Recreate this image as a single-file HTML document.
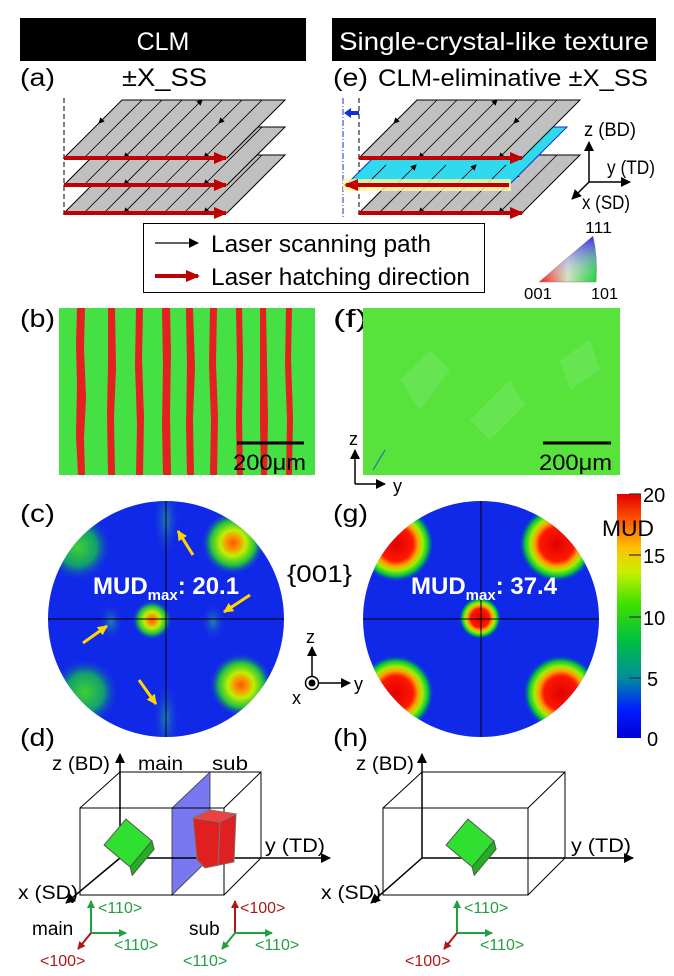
<!DOCTYPE html>
<html><head><meta charset="utf-8"><style>
html,body{margin:0;padding:0;background:#fff}
svg{display:block;font-family:"Liberation Sans",Arial,sans-serif}
</style></head><body>
<svg width="674" height="976" viewBox="0 0 674 976" xmlns="http://www.w3.org/2000/svg">
<defs>
<marker id="mk" markerWidth="6" markerHeight="6" refX="5" refY="3" orient="auto" markerUnits="userSpaceOnUse"><path d="M0,0 L6,3 L0,6 z" fill="#000"/></marker>
<marker id="mr" markerWidth="14" markerHeight="12" refX="12" refY="6" orient="auto" markerUnits="userSpaceOnUse"><path d="M0,0 L14,6 L0,12 z" fill="#c00000"/></marker>
<marker id="mb" markerWidth="10" markerHeight="10" refX="9" refY="5" orient="auto" markerUnits="userSpaceOnUse"><path d="M0,0 L10,5 L0,10 z" fill="#000"/></marker>
<marker id="mg" markerWidth="8" markerHeight="8" refX="7" refY="4" orient="auto" markerUnits="userSpaceOnUse"><path d="M0,0 L8,4 L0,8 z" fill="#20a040"/></marker>
<marker id="md" markerWidth="8" markerHeight="8" refX="7" refY="4" orient="auto" markerUnits="userSpaceOnUse"><path d="M0,0 L8,4 L0,8 z" fill="#b01818"/></marker>
<marker id="my" markerWidth="10" markerHeight="10" refX="9" refY="5" orient="auto" markerUnits="userSpaceOnUse"><path d="M0,0 L10,5 L0,10 z" fill="#ffd700"/></marker>
<g id="plate">
<polygon points="0,0 58,-58 221,-58 163,0" stroke="#000" stroke-width="1"/>
<g stroke="#000" stroke-width="0.8">
<line x1="78" y1="-58" x2="20" y2="0"/>
<line x1="40" y1="0" x2="98" y2="-58"/>
<line x1="118" y1="-58" x2="60" y2="0" marker-end="url(#mk)"/>
<line x1="80" y1="0" x2="138" y2="-58" marker-end="url(#mk)"/>
<line x1="158" y1="-58" x2="100" y2="0"/>
<line x1="120" y1="0" x2="178" y2="-58"/>
<line x1="198" y1="-58" x2="140" y2="0" marker-end="url(#mk)"/>
<line x1="38" y1="-38" x2="35" y2="-35" marker-end="url(#mk)"/>
<line x1="158" y1="-38" x2="155" y2="-35" marker-end="url(#mk)"/>
</g>
</g>
<linearGradient id="cb" x1="0" y1="1" x2="0" y2="0">
<stop offset="0" stop-color="#0000d8"/><stop offset="0.12" stop-color="#0020ff"/><stop offset="0.25" stop-color="#00909a"/><stop offset="0.4" stop-color="#00c040"/><stop offset="0.55" stop-color="#40e000"/><stop offset="0.68" stop-color="#c8f000"/><stop offset="0.78" stop-color="#ffc000"/><stop offset="0.9" stop-color="#ff5000"/><stop offset="1" stop-color="#e00000"/>
</linearGradient>
<radialGradient id="pr"><stop offset="0" stop-color="#e00000"/><stop offset="0.45" stop-color="#ff1800"/><stop offset="0.58" stop-color="#ffa000"/><stop offset="0.7" stop-color="#a0f000"/><stop offset="0.85" stop-color="#00c040"/><stop offset="1" stop-color="#1028e8" stop-opacity="0"/></radialGradient>
<radialGradient id="po"><stop offset="0" stop-color="#f06000"/><stop offset="0.2" stop-color="#ff9000"/><stop offset="0.4" stop-color="#c0f000"/><stop offset="0.7" stop-color="#20c040"/><stop offset="1" stop-color="#1028e8" stop-opacity="0"/></radialGradient>
<radialGradient id="pg"><stop offset="0" stop-color="#40d030"/><stop offset="0.55" stop-color="#10a070"/><stop offset="1" stop-color="#1028e8" stop-opacity="0"/></radialGradient>
<radialGradient id="pw"><stop offset="0" stop-color="#2080b0"/><stop offset="1" stop-color="#1028e8" stop-opacity="0"/></radialGradient>
<clipPath id="cc"><circle cx="166" cy="619" r="118"/></clipPath>
<clipPath id="cg"><circle cx="481" cy="619" r="118"/></clipPath>
<linearGradient id="ipf" x1="0" y1="0" x2="1" y2="0"><stop offset="0" stop-color="#ff1010"/><stop offset="0.5" stop-color="#d0e0c0"/><stop offset="1" stop-color="#10d030"/></linearGradient>
<linearGradient id="ipf2" x1="0" y1="1" x2="0" y2="0"><stop offset="0" stop-color="#fff" stop-opacity="0"/><stop offset="1" stop-color="#4020ff"/></linearGradient>
</defs>

<rect x="20" y="18" width="286" height="43" fill="#000"/>
<text x="163" y="50" font-size="25" fill="#fff" text-anchor="middle">CLM</text>
<rect x="332" y="18" width="324" height="43" fill="#000"/>
<text x="339" y="50" font-size="25" fill="#fff" textLength="310" lengthAdjust="spacingAndGlyphs">Single-crystal-like texture</text>
<text x="20" y="86" font-size="25" textLength="35" lengthAdjust="spacingAndGlyphs">(a)</text>
<text x="122" y="86" font-size="25" textLength="85" lengthAdjust="spacingAndGlyphs">±X_SS</text>
<text x="333" y="86" font-size="25" textLength="35" lengthAdjust="spacingAndGlyphs">(e)</text>
<text x="378" y="86" font-size="24" textLength="270" lengthAdjust="spacingAndGlyphs">CLM-eliminative  ±X_SS</text>

<line x1="64" y1="98" x2="64" y2="218" stroke="#000" stroke-dasharray="5,3"/>
<use href="#plate" x="64" y="213" fill="#c0c0c0"/>
<use href="#plate" x="64" y="185" fill="#c0c0c0"/>
<use href="#plate" x="64" y="158" fill="#c0c0c0"/>
<g stroke="#c00000" stroke-width="4">
<line x1="64" y1="158" x2="226" y2="158" marker-end="url(#mr)"/>
<line x1="64" y1="185" x2="226" y2="185" marker-end="url(#mr)"/>
<line x1="64" y1="213" x2="226" y2="213" marker-end="url(#mr)"/>
</g>

<line x1="343" y1="98" x2="343" y2="218" stroke="#1030d0" stroke-dasharray="6,2,1,2"/>
<line x1="359" y1="98" x2="359" y2="218" stroke="#000" stroke-dasharray="5,3"/>
<path d="M359,113 L348,113" stroke="#1030d0" stroke-width="4"/><path d="M344,113 L351,108 L351,118z" fill="#1030d0"/>
<use href="#plate" x="359" y="213" fill="#c0c0c0"/>
<g transform="translate(346,185)"><polygon points="0,0 58,-58 221,-58 163,0" fill="#30d8f0" stroke="#1030d0"/>
<g stroke="#000" stroke-width="0.8"><line x1="20" y1="0" x2="40" y2="-20"/><line x1="50" y1="0" x2="70" y2="-20" marker-end="url(#mk)"/><line x1="80" y1="0" x2="100" y2="-20"/><line x1="110" y1="0" x2="130" y2="-20" marker-end="url(#mk)"/><line x1="140" y1="0" x2="160" y2="-20"/></g></g>
<use href="#plate" x="359" y="158" fill="#c0c0c0"/>
<line x1="359" y1="158" x2="522" y2="158" stroke="#c00000" stroke-width="4" marker-end="url(#mr)"/>
<line x1="359" y1="213" x2="522" y2="213" stroke="#c00000" stroke-width="4" marker-end="url(#mr)"/>
<rect x="343" y="179" width="168" height="12" fill="#fff8a0" opacity="0.8"/>
<line x1="509" y1="185" x2="346" y2="185" stroke="#c00000" stroke-width="4" marker-end="url(#mr)"/>

<g stroke="#000" stroke-width="1.5">
<line x1="589" y1="182" x2="589" y2="142" marker-end="url(#mb)"/>
<line x1="589" y1="182" x2="630" y2="182" marker-end="url(#mb)"/>
<line x1="589" y1="182" x2="572" y2="199" marker-end="url(#mb)"/>
</g>
<text x="584" y="136" font-size="19" textLength="52" lengthAdjust="spacingAndGlyphs">z (BD)</text>
<text x="607" y="174" font-size="19" textLength="48" lengthAdjust="spacingAndGlyphs">y (TD)</text>
<text x="582" y="209" font-size="19" textLength="48" lengthAdjust="spacingAndGlyphs">x (SD)</text>

<rect x="143.5" y="223.5" width="341" height="69" fill="#fff" stroke="#000"/>
<line x1="155" y1="243" x2="198" y2="243" stroke="#000" stroke-width="1.2" marker-end="url(#mb)"/>
<text x="211" y="252" font-size="24" textLength="220" lengthAdjust="spacingAndGlyphs">Laser scanning path</text>
<line x1="155" y1="276" x2="198" y2="276" stroke="#c00000" stroke-width="4" marker-end="url(#mr)"/>
<text x="211" y="285" font-size="24" textLength="259" lengthAdjust="spacingAndGlyphs">Laser hatching direction</text>

<path d="M539,282 L596,282 Q598,258 593,236 Z" fill="url(#ipf)"/>
<path d="M539,282 L596,282 Q598,258 593,236 Z" fill="url(#ipf2)" stroke="#888" stroke-width="0.5"/>
<text x="585" y="233" font-size="16" textLength="27" lengthAdjust="spacingAndGlyphs">111</text>
<text x="524" y="299" font-size="16" textLength="28" lengthAdjust="spacingAndGlyphs">001</text>
<text x="591" y="299" font-size="16" textLength="27" lengthAdjust="spacingAndGlyphs">101</text>

<text x="20" y="327" font-size="25" textLength="35" lengthAdjust="spacingAndGlyphs">(b)</text>
<rect x="59" y="308" width="256" height="167" fill="#44e044"/>
<g fill="#e42020">
<path d="M77,308 h8 l-1,40 l2,50 l-2,40 l1,37 h-7 l-2,-40 l1,-50 l-1,-40z"/>
<path d="M108,308 h7 l1,60 l-2,50 l1,57 h-7 l-1,-60 l1,-50z"/>
<path d="M136,308 h7 l-1,50 l2,60 l-1,57 h-7 l1,-50 l-2,-60z"/>
<path d="M162,308 h8 l1,45 l-1,60 l1,62 h-8 l-1,-50 l1,-60z"/>
<path d="M186,308 h7 l2,60 l-2,50 l1,57 h-7 l-1,-50 l1,-60z"/>
<path d="M210,308 h7 l-1,55 l2,55 l-1,57 h-7 l1,-55 l-2,-55z"/>
<path d="M236,308 h6 l1,50 l-1,60 l1,57 h-6 l-1,-55 l1,-55z"/>
<path d="M260,308 h6 l1,55 l1,55 l-1,57 h-6 l-1,-50 l0,-60z"/>
<path d="M286,308 h6 l-1,50 l2,60 l-1,57 h-6 l1,-55 l-2,-55z"/>
</g>
<line x1="237" y1="443" x2="304" y2="443" stroke="#000" stroke-width="3"/>
<text x="233" y="470" font-size="22" textLength="73" lengthAdjust="spacingAndGlyphs">200μm</text>

<text x="333" y="327" font-size="25" textLength="35" lengthAdjust="spacingAndGlyphs">(f)</text>
<rect x="363" y="308" width="257" height="167" fill="#58e23c"/>
<g fill="#70e860" opacity="0.6"><path d="M400,380 l30,-30 l20,20 l-30,40z"/><path d="M470,420 l40,-40 l15,25 l-35,35z"/><path d="M560,360 l30,-20 l10,30 l-30,20z"/></g>
<line x1="373" y1="470" x2="385" y2="450" stroke="#2060c0" stroke-width="1"/>
<line x1="543" y1="443" x2="611" y2="443" stroke="#000" stroke-width="3"/>
<text x="539" y="470" font-size="22" textLength="73" lengthAdjust="spacingAndGlyphs">200μm</text>
<g stroke="#000" stroke-width="1.5"><line x1="355" y1="484" x2="355" y2="450" marker-end="url(#mb)"/><line x1="355" y1="484" x2="385" y2="484" marker-end="url(#mb)"/></g>
<text x="349" y="445" font-size="18">z</text>
<text x="393" y="492" font-size="18">y</text>

<text x="20" y="522" font-size="25" textLength="35" lengthAdjust="spacingAndGlyphs">(c)</text>
<circle cx="166" cy="619" r="118" fill="#1028e8"/>
<g clip-path="url(#cc)">
<ellipse cx="166" cy="520" rx="14" ry="40" fill="url(#pw)"/>
<ellipse cx="166" cy="718" rx="14" ry="40" fill="url(#pw)"/>
<circle cx="78" cy="547" r="34" fill="url(#pg)"/>
<circle cx="85" cy="692" r="34" fill="url(#pg)"/>
<circle cx="233" cy="543" r="32" fill="url(#po)"/>
<circle cx="241" cy="685" r="32" fill="url(#po)"/>
<circle cx="152" cy="620" r="20" fill="url(#po)"/>
<ellipse cx="111" cy="622" rx="13" ry="20" fill="url(#pw)"/>
<ellipse cx="213" cy="622" rx="13" ry="20" fill="url(#pw)"/>
</g>
<g stroke="#000" stroke-width="1"><line x1="48" y1="619" x2="284" y2="619"/><line x1="166" y1="501" x2="166" y2="737"/></g>
<g stroke="#ffd700" stroke-width="3">
<line x1="193" y1="555" x2="178" y2="531" marker-end="url(#my)"/>
<line x1="250" y1="595" x2="224" y2="612" marker-end="url(#my)"/>
<line x1="83" y1="643" x2="107" y2="626" marker-end="url(#my)"/>
<line x1="139" y1="680" x2="156" y2="704" marker-end="url(#my)"/>
</g>
<text x="93" y="594" font-size="24" font-weight="bold" fill="#fff">MUD<tspan font-size="15" dy="6">max</tspan><tspan dy="-6">: 20.1</tspan></text>
<text x="287" y="582" font-size="24" textLength="65" lengthAdjust="spacingAndGlyphs">{001}</text>

<text x="333" y="522" font-size="25" textLength="35" lengthAdjust="spacingAndGlyphs">(g)</text>
<circle cx="481" cy="619" r="118" fill="#1028e8"/>
<g clip-path="url(#cg)">
<circle cx="396" cy="544" r="38" fill="url(#pr)"/>
<circle cx="557" cy="544" r="38" fill="url(#pr)"/>
<circle cx="396" cy="693" r="38" fill="url(#pr)"/>
<circle cx="561" cy="693" r="38" fill="url(#pr)"/>
<circle cx="480" cy="618" r="21" fill="url(#pr)"/>
</g>
<g stroke="#000" stroke-width="1"><line x1="363" y1="619" x2="599" y2="619"/><line x1="481" y1="501" x2="481" y2="737"/></g>
<text x="411" y="594" font-size="24" font-weight="bold" fill="#fff">MUD<tspan font-size="15" dy="6">max</tspan><tspan dy="-6">: 37.4</tspan></text>

<g stroke="#000" stroke-width="1.5"><line x1="312" y1="677" x2="312" y2="647" marker-end="url(#mb)"/><line x1="318" y1="683" x2="350" y2="683" marker-end="url(#mb)"/></g>
<circle cx="312" cy="683" r="6.5" fill="#fff" stroke="#000" stroke-width="1.5"/><circle cx="312" cy="683" r="3.5" fill="#000"/>
<text x="306" y="643" font-size="18">z</text>
<text x="354" y="690" font-size="18">y</text>
<text x="292" y="704" font-size="18">x</text>

<rect x="617" y="494" width="24" height="244" fill="url(#cb)"/>
<g stroke="#333" stroke-width="1.2"><line x1="629" y1="555" x2="641" y2="555"/><line x1="629" y1="617" x2="641" y2="617"/><line x1="629" y1="678" x2="641" y2="678"/><line x1="629" y1="494" x2="641" y2="494"/></g>
<g font-size="20"><text x="643" y="502">20</text><text x="643" y="563">15</text><text x="643" y="625">10</text><text x="647" y="686">5</text><text x="647" y="746">0</text></g>
<text x="602" y="536" font-size="22" textLength="52" lengthAdjust="spacingAndGlyphs">MUD</text>

<text x="20" y="746" font-size="25" textLength="35" lengthAdjust="spacingAndGlyphs">(d)</text>
<rect x="120" y="772" width="141" height="86" fill="none" stroke="#000"/>
<polygon points="172,808 210,772 210,858 172,895" fill="#7878f0" stroke="#333" stroke-width="0.8"/>
<g fill="none" stroke="#000" stroke-width="1">
<rect x="80" y="808" width="144" height="87"/>
<line x1="80" y1="808" x2="120" y2="772"/><line x1="224" y1="808" x2="261" y2="772"/><line x1="224" y1="895" x2="261" y2="858"/>
</g>
<g stroke="#000" stroke-width="1.5">
<line x1="120" y1="858" x2="120" y2="754" marker-end="url(#mb)"/>
<line x1="120" y1="858" x2="330" y2="858" marker-end="url(#mb)"/>
<line x1="120" y1="858" x2="66" y2="903" marker-end="url(#mb)"/>
</g>
<g transform="translate(128,843) rotate(40)"><rect x="-17" y="-17" width="34" height="34" fill="#30e030" stroke="#555"/><polygon points="17,-17 24,-12 24,22 17,17" fill="#20b020" stroke="#555"/></g>
<g><polygon points="193,818 210,810 236,814 234,862 205,868 197,860" fill="#e02020" stroke="#777"/><polygon points="193,818 210,810 236,814 220,822" fill="#f04040" stroke="#777"/><line x1="220" y1="822" x2="218" y2="866" stroke="#777"/></g>
<text x="52" y="770" font-size="19" textLength="58" lengthAdjust="spacingAndGlyphs">z (BD)</text>
<text x="138" y="770" font-size="19" textLength="45" lengthAdjust="spacingAndGlyphs">main</text>
<text x="212" y="770" font-size="19" textLength="36" lengthAdjust="spacingAndGlyphs">sub</text>
<text x="265" y="852" font-size="19" textLength="60" lengthAdjust="spacingAndGlyphs">y (TD)</text>
<text x="18" y="899" font-size="19" textLength="60" lengthAdjust="spacingAndGlyphs">x (SD)</text>
<g stroke-width="2">
<line x1="91" y1="933" x2="91" y2="901" stroke="#20a040" marker-end="url(#mg)"/>
<line x1="91" y1="933" x2="126" y2="933" stroke="#20a040" marker-end="url(#mg)"/>
<line x1="91" y1="933" x2="78" y2="949" stroke="#b01818" marker-end="url(#md)"/>
</g>
<text x="98" y="913" font-size="16" fill="#20a040">&lt;110&gt;</text>
<text x="114" y="950" font-size="16" fill="#20a040">&lt;110&gt;</text>
<text x="40" y="966" font-size="16" fill="#b01818">&lt;100&gt;</text>
<text x="32" y="935" font-size="19">main</text>
<g stroke-width="2">
<line x1="235" y1="933" x2="235" y2="901" stroke="#b01818" marker-end="url(#md)"/>
<line x1="235" y1="933" x2="272" y2="933" stroke="#20a040" marker-end="url(#mg)"/>
<line x1="235" y1="933" x2="222" y2="949" stroke="#20a040" marker-end="url(#mg)"/>
</g>
<text x="240" y="913" font-size="16" fill="#b01818">&lt;100&gt;</text>
<text x="255" y="950" font-size="16" fill="#20a040">&lt;110&gt;</text>
<text x="183" y="966" font-size="16" fill="#20a040">&lt;110&gt;</text>
<text x="189" y="935" font-size="19">sub</text>

<text x="333" y="746" font-size="25" textLength="35" lengthAdjust="spacingAndGlyphs">(h)</text>
<g fill="none" stroke="#000" stroke-width="1">
<rect x="422" y="772" width="143" height="86"/>
<rect x="383" y="808" width="145" height="87"/>
<line x1="383" y1="808" x2="422" y2="772"/><line x1="528" y1="808" x2="565" y2="772"/><line x1="528" y1="895" x2="565" y2="858"/>
</g>
<g stroke="#000" stroke-width="1.5">
<line x1="422" y1="858" x2="422" y2="754" marker-end="url(#mb)"/>
<line x1="422" y1="858" x2="633" y2="858" marker-end="url(#mb)"/>
<line x1="422" y1="858" x2="371" y2="903" marker-end="url(#mb)"/>
</g>
<g transform="translate(470,843) rotate(40)"><rect x="-17" y="-17" width="34" height="34" fill="#30e030" stroke="#555"/><polygon points="17,-17 24,-12 24,22 17,17" fill="#20b020" stroke="#555"/></g>
<text x="356" y="770" font-size="19" textLength="58" lengthAdjust="spacingAndGlyphs">z (BD)</text>
<text x="571" y="852" font-size="19" textLength="60" lengthAdjust="spacingAndGlyphs">y (TD)</text>
<text x="321" y="899" font-size="19" textLength="60" lengthAdjust="spacingAndGlyphs">x (SD)</text>
<g stroke-width="2">
<line x1="457" y1="933" x2="457" y2="901" stroke="#20a040" marker-end="url(#mg)"/>
<line x1="457" y1="933" x2="492" y2="933" stroke="#20a040" marker-end="url(#mg)"/>
<line x1="457" y1="933" x2="444" y2="949" stroke="#b01818" marker-end="url(#md)"/>
</g>
<text x="464" y="913" font-size="16" fill="#20a040">&lt;110&gt;</text>
<text x="480" y="950" font-size="16" fill="#20a040">&lt;110&gt;</text>
<text x="405" y="966" font-size="16" fill="#b01818">&lt;100&gt;</text>
</svg>
</body></html>
